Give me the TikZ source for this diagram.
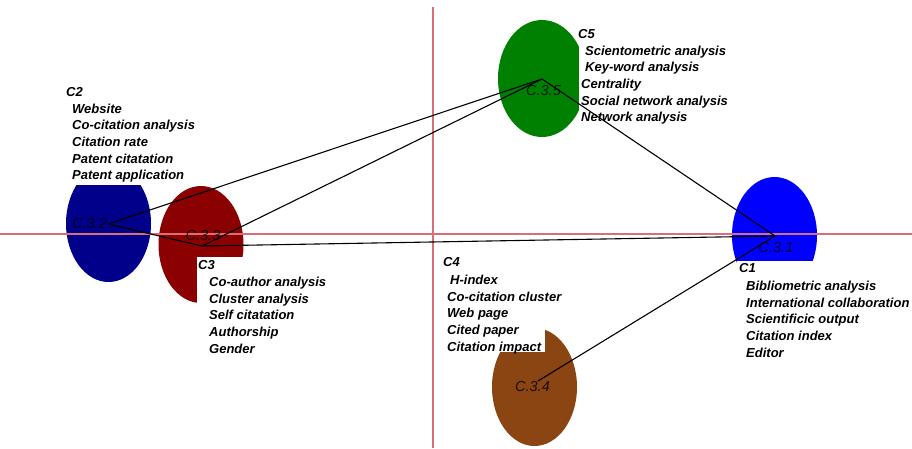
\documentclass[tikz,border=0pt]{standalone}
\usepackage{fontspec}
\setmainfont{Liberation Sans}
\usetikzlibrary{shapes.geometric}

\definecolor{clnavy}{RGB}{0,0,139}
\definecolor{cldarkred}{RGB}{139,0,0}
\definecolor{clgreen}{RGB}{0,128,0}
\definecolor{clblue}{RGB}{0,0,255}
\definecolor{clbrown}{RGB}{139,69,19}
\definecolor{axispink}{RGB}{215,110,120}

\begin{document}
\begin{tikzpicture}[x=1pt,y=-1pt,
  cluster/.style={ellipse, inner sep=0pt, minimum width=85pt, minimum height=117pt},
  cutout/.style={fill=white},
  termlist/.style={anchor=north west, inner sep=0pt, align=left,
    font=\fontsize{13}{16.6}\selectfont\bfseries\itshape},
  clusterid/.style={inner sep=0pt, text=black, text opacity=0.8,
    font=\fontsize{14.5}{16}\selectfont\itshape},
  link/.style={draw=black, line width=1.1pt},
  axisline/.style={draw=axispink, line width=1.2pt}
]
\useasboundingbox (0,0) rectangle (912,448);

% cluster bubbles
\node[cluster, fill=clblue]    (b1) at (774.5,235.5) {};
\node[cluster, fill=clnavy]    (b2) at (108.5,223.5) {};
\node[cluster, fill=cldarkred] (b3) at (201,244.5) {};
\node[cluster, fill=clbrown, minimum height=118pt] (b4) at (534.5,387) {};
\node[cluster, fill=clgreen, minimum width=88pt]   (b5) at (542,78.5) {};

% white backgrounds of the term lists
\fill[cutout] (60,80) rectangle (205,185);
\fill[cutout] (197,257) rectangle (345,362);
\fill[cutout] (737,261) rectangle (912,365);
\fill[cutout] (438,255) rectangle (545,352);
\fill[cutout] (579,25) rectangle (740,127);

% axes
\coordinate (xw) at (0,234);
\coordinate (xe) at (912,234);
\coordinate (yn) at (433,7);
\coordinate (ys) at (433,448);
\draw[axisline] (xw) -- (xe);
\draw[axisline] (yn) -- (ys);

% term lists
\node[termlist] (t2) at (66,87.4) {C2\\
  \hspace*{6pt}Website\\
  \hspace*{6pt}Co-citation analysis\\
  \hspace*{6pt}Citation rate\\
  \hspace*{6pt}Patent citatation\\
  \hspace*{6pt}Patent application};
\node[termlist] (t3) at (198,259.9) {C3\\[1pt]
  \hspace*{11pt}Co-author analysis\\
  \hspace*{11pt}Cluster analysis\\
  \hspace*{11pt}Self citatation\\
  \hspace*{11pt}Authorship\\
  \hspace*{11pt}Gender};
\node[termlist] (t5) at (578,29.4) {C5\\
  \hspace*{7pt}Scientometric analysis\\
  \hspace*{7pt}Key-word analysis\\
  \hspace*{3pt}Centrality\\
  \hspace*{3pt}Social network analysis\\
  \hspace*{3pt}Network analysis};
\node[termlist] (t1) at (739,263.4) {C1\\[1.5pt]
  \hspace*{7pt}Bibliometric analysis\\
  \hspace*{7pt}International collaboration\\
  \hspace*{7pt}Scientificic output\\
  \hspace*{7pt}Citation index\\
  \hspace*{7pt}Editor};
\node[termlist] (t4) at (443,257.4) {C4\\[1.5pt]
  \hspace*{7pt}H-index\\
  \hspace*{4pt}Co-citation cluster\\
  \hspace*{4pt}Web page\\
  \hspace*{4pt}Cited paper\\
  \hspace*{4pt}Citation impact};

% cluster identifiers
\node[clusterid] (c1) at (776,248) {C.3.1};
\node[clusterid] (c2) at (89.5,224) {C.3.2};
\node[clusterid] (c3) at (203,236) {C.3.3};
\node[clusterid] (c4) at (532.5,386) {C.3.4};
\node[clusterid] (c5) at (543.5,91) {C.3.5};

% link end points
\coordinate (h1) at (775,236);
\coordinate (h2) at (108,224);
\coordinate (h3) at (202,246);
\coordinate (h4) at (538,381);
\coordinate (h5) at (542,79);

% links between clusters
\draw[link] (h2) -- (h5);
\draw[link] (h3) -- (h5);
\draw[link] (h2) -- (h3);
\draw[link] (h3) -- (h1);
\draw[link] (h5) -- (h1);
\draw[link] (h4) -- (h1);
\end{tikzpicture}
\end{document}
